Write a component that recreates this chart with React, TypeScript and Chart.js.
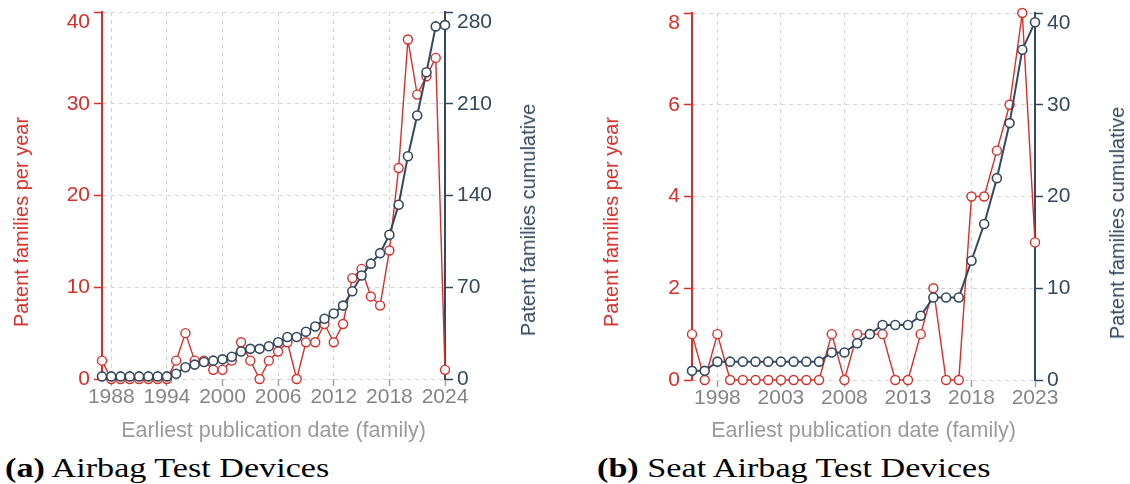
import React, { useEffect, useRef } from 'react';
import { Chart, registerables } from 'chart.js';

Chart.register(...registerables);

// ---------- Data ----------
const airbagYears = [
  1987, 1988, 1989, 1990, 1991, 1992, 1993, 1994, 1995, 1996, 1997, 1998, 1999,
  2000, 2001, 2002, 2003, 2004, 2005, 2006, 2007, 2008, 2009, 2010, 2011, 2012,
  2013, 2014, 2015, 2016, 2017, 2018, 2019, 2020, 2021, 2022, 2023, 2024,
];
const airbagPerYear = [
  2, 0, 0, 0, 0, 0, 0, 0, 2, 5, 2, 2, 1,
  1, 2, 4, 2, 0, 2, 3, 4, 0, 4, 4, 6, 4,
  6, 11, 12, 9, 8, 14, 23, 37, 31, 33, 35, 1,
];
const airbagCumulative = [
  2, 2, 2, 2, 2, 2, 2, 2, 4, 9, 11, 13, 14,
  15, 17, 21, 23, 23, 25, 28, 32, 32, 36, 40, 46, 50,
  56, 67, 79, 88, 96, 110, 133, 170, 201, 234, 269, 270,
];
const airbagXTicks = [1988, 1994, 2000, 2006, 2012, 2018, 2024];

const seatYears = [
  1996, 1997, 1998, 1999, 2000, 2001, 2002, 2003, 2004, 2005, 2006, 2007, 2008, 2009,
  2010, 2011, 2012, 2013, 2014, 2015, 2016, 2017, 2018, 2019, 2020, 2021, 2022, 2023,
];
const seatPerYear = [
  1, 0, 1, 0, 0, 0, 0, 0, 0, 0, 0, 1, 0, 1,
  1, 1, 0, 0, 1, 2, 0, 0, 4, 4, 5, 6, 8, 3,
];
const seatCumulative = [
  1, 1, 2, 2, 2, 2, 2, 2, 2, 2, 2, 3, 3, 4,
  5, 6, 6, 6, 7, 9, 9, 9, 13, 17, 22, 28, 36, 39,
];
const seatXTicks = [1998, 2003, 2008, 2013, 2018, 2023];

const leftTitle = 'Patent families per year';
const rightTitle = 'Patent families cumulative';
const xTitle = 'Earliest publication date (family)';

// ---------- Styles ----------
const RED = '#d62f2a';
const DARK = '#34495e';
const GRID = '#d4d4d4';
const SANS = '"Liberation Sans", Arial, sans-serif';

type PanelProps = {
  left: number;
  width: number;
  height: number;
  padTop: number;
  leftW: number;
  rightW: number;
  xH: number;
  years: number[];
  perYear: number[];
  cumulative: number[];
  xTicks: number[];
  xMin: number;
  xMax: number;
  yMax: number;
  yStep: number;
  y2Max: number;
  y2Step: number;
};

function Panel(p: PanelProps) {
  const ref = useRef<HTMLCanvasElement | null>(null);
  useEffect(() => {
    if (!ref.current) return;
    const zeroPad = (s: any) => {
      s.paddingTop = 0;
      s.paddingBottom = 0;
      s.paddingLeft = 0;
      s.paddingRight = 0;
    };
    const topLabel = (max: number) => (v: any) =>
      Number(v) === max ? ['', String(v)] : String(v);
    const chart = new Chart(ref.current, {
      type: 'line',
      data: {
        datasets: [
          {
            label: 'cumulative',
            data: p.years.map((y, i) => ({ x: y, y: p.cumulative[i] })),
            yAxisID: 'y2',
            borderColor: DARK,
            borderWidth: 2,
            pointRadius: 4.5,
            pointBorderWidth: 1.6,
            pointBackgroundColor: '#ffffff',
            pointBorderColor: DARK,
            clip: false,
            order: 0,
          },
          {
            label: 'per year',
            data: p.years.map((y, i) => ({ x: y, y: p.perYear[i] })),
            yAxisID: 'y',
            borderColor: RED,
            borderWidth: 1.4,
            pointRadius: 4.5,
            pointBorderWidth: 1.4,
            pointBackgroundColor: '#ffffff',
            pointBorderColor: RED,
            clip: false,
            order: 1,
          },
        ],
      },
      options: {
        animation: false,
        responsive: false,
        maintainAspectRatio: false,
        layout: { padding: { top: p.padTop, left: 0, right: 0, bottom: 0 } },
        plugins: { legend: { display: false }, tooltip: { enabled: false } },
        scales: {
          x: {
            type: 'linear',
            min: p.xMin,
            max: p.xMax,
            afterBuildTicks: (axis: any) => {
              axis.ticks = p.xTicks.map((v) => ({ value: v }));
            },
            afterFit: (s: any) => {
              s.height = p.xH;
              zeroPad(s);
            },
            ticks: {
              autoSkip: false,
              maxRotation: 0,
              minRotation: 0,
              padding: 1,
              color: '#858585',
              font: { family: SANS, size: 21, lineHeight: 1 },
              callback: (v: any) => String(v),
            },
            grid: {
              color: GRID,
              lineWidth: 1,
              tickColor: '#a0a0a0',
              tickLength: 7,
              tickWidth: 1.5,
            },
            border: { display: false, dash: [4, 4] },
            title: {
              display: true,
              text: xTitle,
              color: '#9b9b9b',
              font: { family: SANS, size: 21.5, lineHeight: 1.2 },
              padding: { top: 0, bottom: 1 },
            },
          },
          y: {
            type: 'linear',
            position: 'left',
            min: 0,
            max: p.yMax,
            afterFit: (s: any) => {
              s.width = p.leftW;
              zeroPad(s);
            },
            ticks: {
              stepSize: p.yStep,
              padding: 4,
              color: RED,
              font: { family: SANS, size: 21, lineHeight: 1 },
              callback: topLabel(p.yMax),
            },
            grid: {
              color: GRID,
              lineWidth: 1,
              tickColor: RED,
              tickLength: 8,
              tickWidth: 1.5,
            },
            border: { display: true, color: RED, width: 2, dash: [4, 4] },
          },
          y2: {
            type: 'linear',
            position: 'right',
            min: 0,
            max: p.y2Max,
            afterFit: (s: any) => {
              s.width = p.rightW;
              zeroPad(s);
            },
            ticks: {
              stepSize: p.y2Step,
              padding: 4,
              color: DARK,
              font: { family: SANS, size: 21, lineHeight: 1 },
              callback: topLabel(p.y2Max),
            },
            grid: {
              drawOnChartArea: false,
              color: GRID,
              tickColor: DARK,
              tickLength: 8,
              tickWidth: 1.5,
            },
            border: { display: true, color: DARK, width: 2 },
          },
        },
      },
    } as any);
    return () => chart.destroy();
  }, []);
  return (
    <canvas
      ref={ref}
      width={p.width}
      height={p.height}
      style={{ position: 'absolute', left: p.left, top: 0, width: p.width, height: p.height }}
    />
  );
}

function VTitle(props: { x: number; y: number; text: string; color: string }) {
  return (
    <div
      style={{
        position: 'absolute',
        left: props.x,
        top: props.y,
        transform: 'translate(-50%, -50%) rotate(-90deg)',
        whiteSpace: 'nowrap',
        fontFamily: SANS,
        fontSize: 20,
        lineHeight: 1,
        color: props.color,
      }}
    >
      {props.text}
    </div>
  );
}

function Caption(props: { x: number; label: string; text: string }) {
  return (
    <div
      style={{
        position: 'absolute',
        left: props.x,
        top: 451,
        whiteSpace: 'nowrap',
        fontFamily: '"Liberation Serif", "Times New Roman", serif',
        fontSize: 28,
        lineHeight: 1.2,
        color: '#000',
        transform: 'scaleX(1.22)',
        transformOrigin: 'left top',
      }}
    >
      <b>{props.label}</b> {props.text}
    </div>
  );
}

export default function App() {
  return (
    <div
      style={{
        position: 'absolute',
        left: 0,
        top: 0,
        width: 1130,
        height: 484,
        background: '#fff',
        overflow: 'hidden',
      }}
    >
      <Panel
        left={0}
        width={545}
        height={445}
        padTop={12}
        leftW={102}
        rightW={100}
        xH={66}
        years={airbagYears}
        perYear={airbagPerYear}
        cumulative={airbagCumulative}
        xTicks={airbagXTicks}
        xMin={1987}
        xMax={2024}
        yMax={40}
        yStep={10}
        y2Max={280}
        y2Step={70}
      />
      <Panel
        left={590}
        width={540}
        height={445}
        padTop={13}
        leftW={102}
        rightW={95}
        xH={65}
        years={seatYears}
        perYear={seatPerYear}
        cumulative={seatCumulative}
        xTicks={seatXTicks}
        xMin={1996}
        xMax={2023}
        yMax={8}
        yStep={2}
        y2Max={40}
        y2Step={10}
      />
      <VTitle x={21} y={222} text={leftTitle} color={RED} />
      <VTitle x={528} y={220} text={rightTitle} color={DARK} />
      <VTitle x={611} y={222} text={leftTitle} color={RED} />
      <VTitle x={1117} y={223} text={rightTitle} color={DARK} />
      <Caption x={5} label="(a)" text="Airbag Test Devices" />
      <Caption x={597} label="(b)" text="Seat Airbag Test Devices" />
    </div>
  );
}
